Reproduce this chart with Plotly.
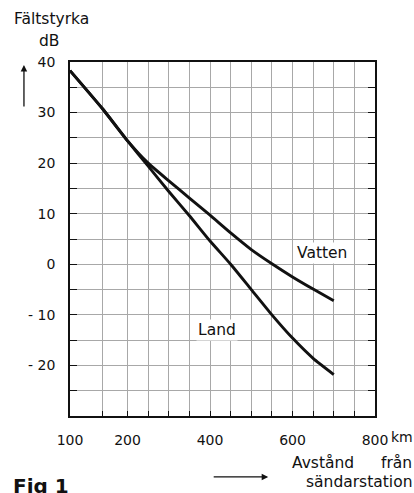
import numpy as np
import plotly.graph_objects as go

# Distance from transmitter (km) and field strength (dB) for the two paths
distance_km = [100, 150, 200, 250, 300, 350, 400, 450, 500, 550, 600, 650, 700]
land_db = [38.3, 30.7, 24.4, 19.4, 14.4, 9.6, 4.6, 0, -5, -10, -14.6, -18.6, -21.8]
vatten_db = [38.3, 30.7, 24.4, 20.0, 16.5, 13.1, 9.7, 6.2, 2.9, 0.1, -2.5, -4.9, -7.2]

# Axis ticks
grid_km = list(range(100, 801, 50))
x_labels = {100: "100", 200: "200", 400: "400", 600: "600", 800: "800"}
grid_db = list(range(-30, 41, 5))
y_labels = {40: "40", 30: "30", 20: "20", 10: "10", 0: "0", -10: "- 10", -20: "- 20"}

# The distance scale is stretched below 200 km; beyond that it is linear.
KM_BREAKS = [100, 150, 200, 800]
AXIS_BREAKS = [60.4, 139.8, 200, 800]


def km_axis(km):
    return np.interp(km, KM_BREAKS, AXIS_BREAKS)


W, H = 414, 493
L, R, T, B = 70, 374.7, 62, 416.5


def px(x):
    return (x - L) / (R - L)


def py(y):
    return (B - y) / (B - T)


FONT = "DejaVu Sans"
INK = "#111111"

fig = go.Figure()
for name, values in (("Land", land_db), ("Vatten", vatten_db)):
    fig.add_trace(go.Scatter(
        x=km_axis(distance_km), y=values, mode="lines", name=name,
        line=dict(color=INK, width=2.9, shape="spline", smoothing=0.5),
        showlegend=False, hoverinfo="skip",
    ))

fig.update_xaxes(
    range=[km_axis(100), 800],
    tickmode="array",
    tickvals=km_axis(grid_km),
    ticktext=[x_labels.get(k, "") for k in grid_km],
    showgrid=True, gridcolor="#a8a8a8", gridwidth=1,
    ticks="inside", ticklen=5, tickcolor=INK, tickwidth=1,
    showline=True, linecolor=INK, linewidth=1.5, mirror=True,
    zeroline=False, ticklabelstandoff=10,
    tickfont=dict(family=FONT, size=14, color=INK),
)
fig.update_yaxes(
    range=[-30, 40],
    tickmode="array",
    tickvals=grid_db,
    ticktext=[y_labels.get(v, "") for v in grid_db],
    showgrid=True, gridcolor="#a8a8a8", gridwidth=1,
    ticks="inside", ticklen=7, tickcolor=INK, tickwidth=1,
    showline=True, linecolor=INK, linewidth=1.5, mirror="allticks",
    zeroline=False, ticklabelstandoff=10,
    tickfont=dict(family=FONT, size=14, color=INK),
)

annotations = [
    dict(x=px(12), y=py(19), text="Fältstyrka", xanchor="left", yanchor="middle",
         font=dict(family=FONT, size=15.5, color=INK)),
    dict(x=px(49), y=py(41), text="dB", xanchor="center", yanchor="middle",
         font=dict(family=FONT, size=15.5, color=INK)),
    dict(x=px(389), y=py(438), text="km", xanchor="left", yanchor="middle",
         font=dict(family=FONT, size=14, color=INK)),
    dict(x=px(322), y=py(253), text="Vatten", xanchor="center", yanchor="middle",
         bgcolor="white", borderpad=1,
         font=dict(family=FONT, size=15.5, color=INK)),
    dict(x=px(217), y=py(330), text="Land", xanchor="center", yanchor="middle",
         bgcolor="white", borderpad=1,
         font=dict(family=FONT, size=15.5, color=INK)),
    dict(x=px(291), y=py(463.5), text="Avstånd", xanchor="left", yanchor="middle",
         borderpad=0, font=dict(family=FONT, size=15.5, color=INK)),
    dict(x=px(413), y=py(463.5), text="från", xanchor="right", yanchor="middle",
         borderpad=0, font=dict(family=FONT, size=15.5, color=INK)),
    dict(x=px(413), y=py(482.5), text="sändarstation", xanchor="right", yanchor="middle",
         borderpad=0, font=dict(family=FONT, size=15.5, color=INK)),
    dict(x=px(11), y=py(473), text="<b>Fig 1</b>", xanchor="left", yanchor="top",
         font=dict(family=FONT, size=20, color=INK)),
    # up arrow next to the field-strength label
    dict(x=px(24), y=py(65), ax=0, ay=43, axref="pixel", ayref="pixel",
         text="", showarrow=True, arrowhead=2, arrowsize=1, arrowwidth=1.3,
         arrowcolor=INK),
    # right arrow under the distance axis
    dict(x=px(268), y=py(477.5), ax=-56, ay=0, axref="pixel", ayref="pixel",
         text="", showarrow=True, arrowhead=2, arrowsize=1, arrowwidth=1.3,
         arrowcolor=INK),
]
for a in annotations:
    a.setdefault("showarrow", False)
    a["xref"] = "paper"
    a["yref"] = "paper"
fig.update_layout(annotations=annotations)

fig.update_layout(
    width=W, height=H,
    margin=dict(l=L, r=W - R, t=T, b=H - B),
    paper_bgcolor="white", plot_bgcolor="white",
)

fig.write_html("out.html")
